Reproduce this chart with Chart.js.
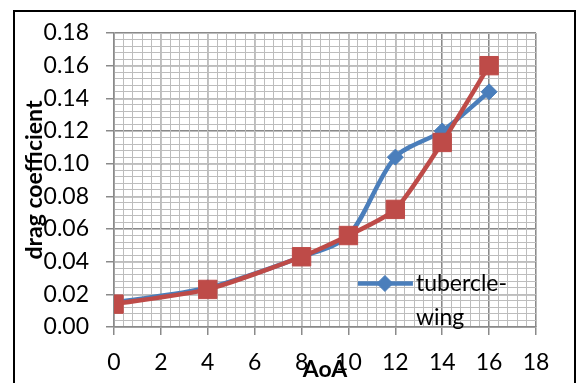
<!DOCTYPE html>
<html>
<head>
<meta charset="utf-8">
<script src="https://cdn.jsdelivr.net/npm/chart.js@4/dist/chart.umd.min.js"></script>
<style>
html, body { margin: 0; padding: 0; background: #fff; }
</style>
</head>
<body>
<canvas id="canvasDrag" width="576" height="383"></canvas>
<script>
"use strict";

// data
var aoa = [0, 4, 8, 10, 12, 14, 16];
var tubercleWing = [0.015, 0.024, 0.043, 0.056, 0.104, 0.120, 0.144];
var plainWing = [0.014, 0.023, 0.043, 0.056, 0.072, 0.113, 0.160];
var xTicks = [0, 2, 4, 6, 8, 10, 12, 14, 16, 18];
var yTicks = [0, 0.02, 0.04, 0.06, 0.08, 0.10, 0.12, 0.14, 0.16, 0.18];

var fontFamily = 'Lato, "Liberation Sans", sans-serif';
var majorGrid = '#8a8a8a';
var minorGrid = '#bdbdbd';

function toPoints(xs, ys) {
	return xs.map(function (x, i) { return { x: x, y: ys[i] }; });
}

// legend only shows the first series, inside the plot
var insideLegend = {
	id: 'insideLegend',
	afterDatasetsDraw: function (chart) {
		var ds = chart.data.datasets[0];
		var area = chart.chartArea;
		var ctx = chart.ctx;
		var x0 = area.left + area.width * 0.578;
		var y0 = area.top + area.height * 0.852;
		ctx.save();
		ctx.strokeStyle = ds.borderColor;
		ctx.fillStyle = ds.backgroundColor;
		ctx.lineWidth = ds.borderWidth;
		ctx.beginPath();
		ctx.moveTo(x0, y0);
		ctx.lineTo(x0 + 55, y0);
		ctx.stroke();
		ctx.lineWidth = 1;
		Chart.helpers.drawPoint(ctx, { pointStyle: ds.pointStyle, radius: ds.pointRadius, borderWidth: 1 }, x0 + 27, y0);
		ctx.fillStyle = '#000';
		ctx.font = '23px ' + fontFamily;
		ctx.textBaseline = 'middle';
		var lines = ds.label.replace('-', '-\n').split('\n');
		lines.forEach(function (t, i) {
			ctx.fillText(t, x0 + 58, y0 + i * 34);
		});
		ctx.restore();
	}
};

var frame = {
	id: 'frame',
	beforeDraw: function (chart) {
		var ctx = chart.ctx;
		ctx.save();
		ctx.fillStyle = '#fff';
		ctx.fillRect(0, 0, chart.width, chart.height);
		ctx.restore();
	},
	afterDraw: function (chart) {
		var ctx = chart.ctx;
		ctx.save();
		ctx.strokeStyle = '#000';
		ctx.lineWidth = 2;
		ctx.strokeRect(14, 11, 561, 400);
		ctx.restore();
	}
};

var context = document.getElementById('canvasDrag');
var myChart = new Chart(context, {
	type: 'line',
	data: {
		datasets: [{
			label: 'tubercle-wing',
			data: toPoints(aoa, tubercleWing),
			borderColor: '#4a7ebb',
			backgroundColor: '#4a7ebb',
			borderWidth: 4.5,
			pointStyle: 'rectRot',
			pointRadius: 8,
			pointBorderWidth: 1,
			tension: 0.3,
			order: 1
		}, {
			label: 'wing',
			data: toPoints(aoa, plainWing),
			borderColor: '#be4b48',
			backgroundColor: '#be4b48',
			borderWidth: 4.5,
			pointStyle: 'rect',
			pointRadius: 13,
			pointBorderWidth: 1,
			tension: 0.2,
			order: 0
		}]
	},
	options: {
		responsive: false,
		animation: false,
		devicePixelRatio: 1,
		layout: { padding: { left: 0, top: 33, right: 40, bottom: 0 } },
		plugins: {
			legend: { display: false },
			tooltip: { enabled: false }
		},
		scales: {
			x: {
				type: 'linear',
				position: 'bottom',
				min: 0,
				max: 18,
				afterBuildTicks: function (scale) {
					scale.ticks = xTicks.map(function (v) { return { value: v }; });
				},
				afterFit: function (scale) { scale.height = 56; },
				grid: { color: majorGrid, lineWidth: 1.5, tickLength: 8 },
				border: { color: majorGrid, width: 1.5 },
				ticks: { color: '#000', padding: 14, font: { family: fontFamily, size: 23 } },
				title: {
					display: true,
					text: 'AoA',
					color: '#000',
					padding: { top: 0, bottom: 0 },
					font: { family: fontFamily, size: 23, weight: 'bold' }
				}
			},
			y: {
				type: 'linear',
				position: 'left',
				min: 0,
				max: 0.18,
				afterBuildTicks: function (scale) {
					scale.ticks = yTicks.map(function (v) { return { value: v }; });
				},
				afterFit: function (scale) { scale.width = 114; },
				grid: { color: majorGrid, lineWidth: 1.5, tickLength: 8 },
				border: { color: majorGrid, width: 1.5 },
				ticks: {
					color: '#000',
					padding: 17,
					font: { family: fontFamily, size: 23 },
					callback: function (v) { return Number(v).toFixed(2); }
				},
				title: {
					display: true,
					text: 'drag coefficient',
					color: '#000',
					padding: { top: 21, bottom: 0 },
					font: { family: fontFamily, size: 23, weight: 'bold' }
				}
			},
			xMinor: {
				type: 'linear',
				position: 'bottom',
				min: 0,
				max: 18,
				z: -1,
				afterFit: function (scale) { scale.height = 0; },
				grid: { color: minorGrid, lineWidth: 1, drawTicks: false },
				border: { display: false },
				ticks: { display: false, stepSize: 0.4 }
			},
			yMinor: {
				type: 'linear',
				position: 'left',
				min: 0,
				max: 0.18,
				z: -1,
				afterFit: function (scale) { scale.width = 0; },
				grid: { color: minorGrid, lineWidth: 1, drawTicks: false },
				border: { display: false },
				ticks: { display: false, stepSize: 0.004 }
			}
		}
	},
	plugins: [frame, insideLegend]
});
</script>
</body>
</html>
